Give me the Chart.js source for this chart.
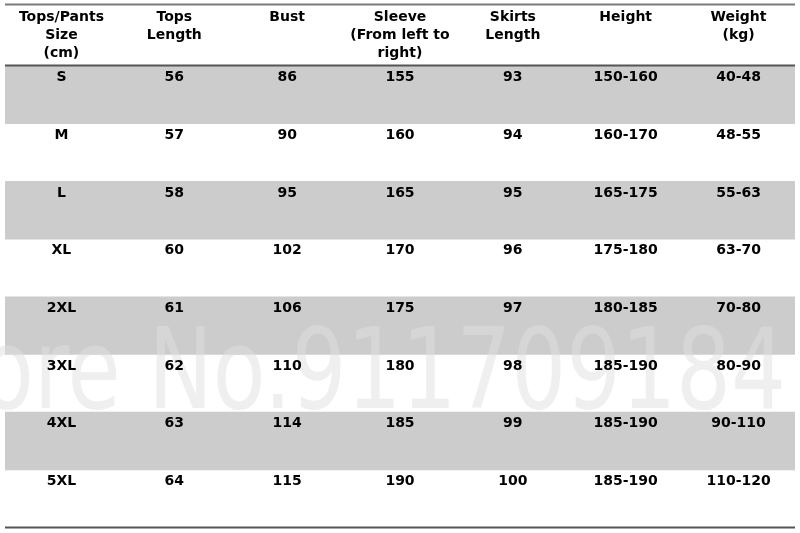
<!DOCTYPE html>
<html>
<head>
<meta charset="utf-8">
<script src="https://cdn.jsdelivr.net/npm/chart.js@4/dist/chart.umd.min.js"></script>
<style>
  html, body { margin:0; padding:0; background:#fff; }
  #wrap { width:800px; height:533px; }
</style>
</head>
<body>
<div id="wrap"><canvas id="sizeChart" width="800" height="533"></canvas></div>
<script>
// ═══ DATA ═══
const sizes = ['S', 'M', 'L', 'XL', '2XL', '3XL', '4XL', '5XL'];
const topsLength = [56, 57, 58, 60, 61, 62, 63, 64];
const bust = [86, 90, 95, 102, 106, 110, 114, 115];
const sleeve = [155, 160, 165, 170, 175, 180, 185, 190];
const skirtsLength = [93, 94, 95, 96, 97, 98, 99, 100];
const heightRange = ['150-160', '160-170', '165-175', '175-180', '180-185', '185-190', '185-190', '185-190'];
const weightRange = ['40-48', '48-55', '55-63', '63-70', '70-80', '80-90', '90-110', '110-120'];
const headers = [
    ['Tops/Pants', 'Size', '(cm)'],
    ['Tops', 'Length'],
    ['Bust'],
    ['Sleeve', '(From left to', 'right)'],
    ['Skirts', 'Length'],
    ['Height'],
    ['Weight', '(kg)']
];
const columns = [sizes, topsLength, bust, sleeve, skirtsLength, heightRange, weightRange];
const watermark = 'Store No.911709184';

const FONT = 'bold 14px "DejaVu Sans", sans-serif';

// shaded band on every other row, spanning all columns
const bands = sizes.map((s, i) => i % 2 === 0 ? [0, columns.length] : null);

// ═══ TABLE PLUGIN ═══
const tablePlugin = {
    id: 'sizeTable',
    afterDatasetsDraw(chart) {
        const { ctx, chartArea: a, scales: { x, y } } = chart;
        const rowH = (a.bottom - a.top) / sizes.length;
        ctx.save();

        // watermark, fitted so "No.911709184" spans its width in the picture, stretched tall
        ctx.font = '100px "DejaVu Sans", sans-serif';
        const w = ctx.measureText('No.911709184').width;
        const fs = 100 * 638 / w;
        ctx.save();
        ctx.translate(786, 408);
        ctx.scale(1, 1.3);
        ctx.font = fs + 'px "DejaVu Sans", sans-serif';
        ctx.fillStyle = 'rgba(224,224,224,0.5)';
        ctx.textAlign = 'right';
        ctx.textBaseline = 'alphabetic';
        ctx.fillText(watermark, 0, 0);
        ctx.restore();

        // rules
        ctx.lineWidth = 2;
        ctx.strokeStyle = '#7a7a7a';
        ctx.beginPath(); ctx.moveTo(a.left, 4.5); ctx.lineTo(a.right, 4.5); ctx.stroke();
        ctx.strokeStyle = '#555';
        ctx.beginPath(); ctx.moveTo(a.left, a.top - 0.5); ctx.lineTo(a.right, a.top - 0.5); ctx.stroke();
        ctx.beginPath(); ctx.moveTo(a.left, a.bottom); ctx.lineTo(a.right, a.bottom); ctx.stroke();

        // text
        ctx.font = FONT;
        ctx.fillStyle = '#000';
        ctx.textAlign = 'center';
        ctx.textBaseline = 'middle';
        headers.forEach((lines, c) => {
            const cx = x.getPixelForValue(c + 0.5);
            lines.forEach((t, k) => ctx.fillText(t, cx, 17 + k * 18));
        });
        columns.forEach((col, c) => {
            const cx = x.getPixelForValue(c + 0.5);
            col.forEach((v, r) => {
                const top = y.getPixelForValue(r) - rowH / 2;
                ctx.fillText(String(v), cx, top + 11.5);
            });
        });
        ctx.restore();
    }
};

new Chart(document.getElementById('sizeChart'), {
    type: 'bar',
    data: {
        labels: sizes,
        datasets: [{ data: bands, backgroundColor: '#cccccc', borderWidth: 0, barPercentage: 1, categoryPercentage: 1 }]
    },
    options: {
        indexAxis: 'y',
        responsive: false,
        animation: false,
        devicePixelRatio: 1,
        layout: { padding: { top: 66, bottom: 5.5, left: 5, right: 5 } },
        scales: {
            x: { type: 'linear', min: 0, max: columns.length, display: false },
            y: { type: 'category', display: false }
        },
        plugins: { legend: { display: false }, tooltip: { enabled: false } }
    },
    plugins: [tablePlugin]
});
</script>
</body>
</html>
